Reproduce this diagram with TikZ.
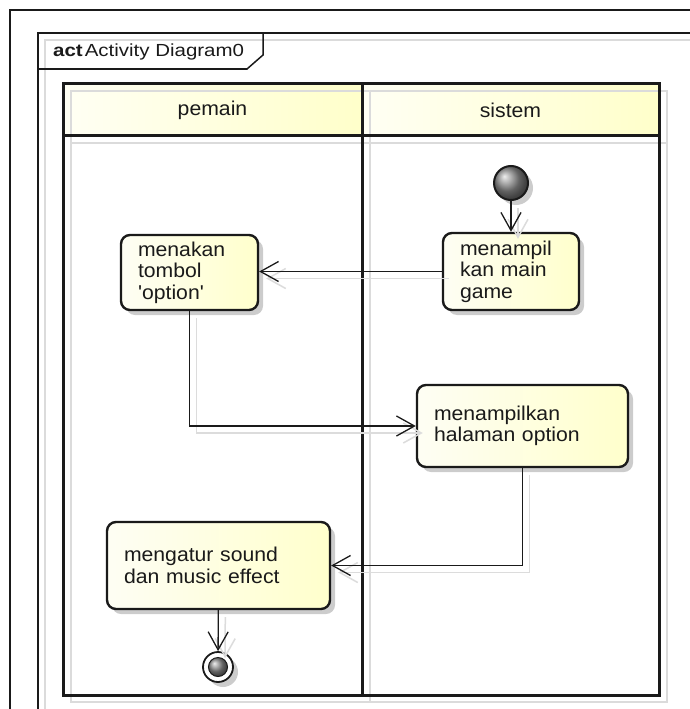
\documentclass[tikz,border=0pt]{standalone}
\usepackage{fontspec}
\setmainfont{Liberation Sans}
\newfontfamily\umlfont[FakeStretch=1.06]{Liberation Sans}
\newfontfamily\titlefont[FakeStretch=1.17]{Liberation Sans}
\usetikzlibrary{arrows.meta,shadows,calc}

\definecolor{inkc}{HTML}{1A1A1A}
\definecolor{boxL}{HTML}{FEFEF4}
\definecolor{boxR}{HTML}{FFFFCC}
\definecolor{headL}{HTML}{FFFFF4}
\definecolor{headR}{HTML}{FFFFCA}
\definecolor{shadowc}{HTML}{DCDCDC}

\begin{document}
\begin{tikzpicture}[x=1pt,y=-1pt,
  actbox/.style={draw=inkc, line width=2.4pt, rounded corners=9pt,
    left color=boxL, right color=boxR, align=left, text=inkc,
    font=\umlfont\fontsize{20}{21.5}\selectfont,
    inner xsep=17pt, inner ysep=3pt,
    drop shadow={shadow xshift=5pt, shadow yshift=-5pt, fill=black, opacity=0.2}},
  flow/.style={draw=inkc, line width=1.3pt,
    -{Straight Barb[length=18pt,width=20pt,line width=1.3pt]}},
  flowshade/.style={draw=shadowc, line width=1.5pt,
    -{Straight Barb[length=18pt,width=20pt,line width=1.5pt]},
    transform canvas={shift={(7pt,-7pt)}}},
  lane/.style={draw=inkc, line width=3pt},
  laneshade/.style={draw=black!14, line width=2.5pt},
  lanelabel/.style={font=\umlfont\fontsize{20}{24}\selectfont, text=inkc, inner sep=0pt}
]
\useasboundingbox (0,0) rectangle (689,709);
\fill[white] (0,0) rectangle (689,709);

% outer frame
\draw[inkc, line width=2pt] (9.5,720) -- (9.5,10) -- (700,10);

% activity frame with its name tab
\draw[black!14, line width=1.5pt] (45,720) -- (45,40) -- (700,40);
\draw[inkc, line width=1.5pt] (38,720) -- (38,33) -- (700,33);
\draw[inkc, line width=1.5pt] (38,69) -- (247,69) -- (263,55) -- (263,33);
\node[anchor=west, font=\titlefont\fontsize{17.5}{20}\selectfont, text=inkc, inner sep=0pt]
  (title) at (53,52) {\textbf{act}\hspace{2pt}Activity Diagram0};

% swimlane headers
\shade[left color=headL, right color=headR] (63,83) rectangle (362,135);
\shade[left color=headL, right color=headR] (362,83) rectangle (659,135);

% swimlane shadow lines
\draw[laneshade] (71,91) rectangle (667,702);
\draw[laneshade] (71,143) -- (667,143);
\draw[laneshade] (370,91) -- (370,702);

% swimlane borders
\draw[lane] (63,83) rectangle (659,695);
\draw[lane] (63,135) -- (659,135);
\draw[lane] (362,83) -- (362,695);

\node[lanelabel] (lanepemain) at (212.5,110) {pemain};
\node[lanelabel] (lanesistem) at (510.5,110) {sistem};

% actions
\node[actbox, text width=102pt, minimum height=77pt] (b1) at (511,271.5)
  {menampil\\kan main\\game};
\node[actbox, text width=103pt, minimum height=75pt] (b2) at (189.5,272.5)
  {menakan\\tombol\\'option'};
\node[actbox, text width=177pt, minimum height=82pt] (b3) at (522.5,426)
  {menampilkan\\halaman option};
\node[actbox, text width=189pt, minimum height=87pt] (b4) at (218.5,565.5)
  {mengatur sound\\dan music effect};

% initial and final nodes
\node[circle, minimum size=34pt, inner sep=0pt, draw=inkc, line width=2pt,
  ball color=black!45,
  drop shadow={shadow xshift=5pt, shadow yshift=-5pt, fill=black, opacity=0.2}]
  (start) at (511,183) {};
\node[circle, minimum size=30pt, inner sep=0pt, draw=inkc, line width=1.8pt, fill=white,
  drop shadow={shadow xshift=5pt, shadow yshift=-5pt, fill=black, opacity=0.2}]
  (end) at (218,667) {};
\node[circle, minimum size=19pt, inner sep=0pt, draw=inkc, line width=1pt,
  ball color=black!45] (endcore) at (end.center) {};

% flow shadows
\draw[flowshade] (start) -- (b1);
\draw[flowshade] (b1.west) -- (b1.west -| b2.east);
\draw[flowshade] (b2.south) |- (b3.west);
\draw[flowshade] (b3.south) |- (b4.east);
\draw[flowshade] (b4) -- (end);

% control flows
\draw[flow] (start) -- (b1);
\draw[flow] (b1.west) -- (b1.west -| b2.east);
\draw[flow] (b2.south) |- (b3.west);
\draw[flow] (b3.south) |- (b4.east);
\draw[flow] (b4) -- (end);
\end{tikzpicture}
\end{document}
